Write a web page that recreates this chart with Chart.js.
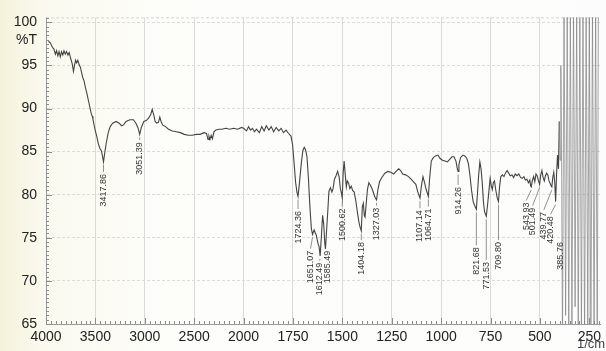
<!DOCTYPE html>
<html><head><meta charset="utf-8">
<script src="https://cdn.jsdelivr.net/npm/chart.js@4.4.1/dist/chart.umd.min.js"></script>
<style>
html,body{margin:0;padding:0;}
body{width:606px;height:351px;overflow:hidden;background:linear-gradient(to right,#f5f2da 0px,#faf9ee 40px,#fdfdfa 160px,#fcfcfc 606px);}
#wrap{position:relative;width:606px;height:351px;}
canvas{display:block;}
</style></head><body><div id="wrap"><canvas id="c" width="606" height="351"></canvas></div>
<script>
// ---- data ----
const xTickLabels = [4000, 3500, 3000, 2500, 2000, 1750, 1500, 1250, 1000, 750, 500, 250];
const yTicks = [65, 70, 75, 80, 85, 90, 95, 100];

const wavenumber = [
3975,3955,3935,3920,3905,3893,3880,3868,3855,3843,3830,3818,3805,3792,3778,3765,3750,3735,3722,3712,
3700,3690,3678,3665,3652,3640,3628,3615,3600,3585,3570,3555,3542,3532,3525,3512,3498,3485,3470,3455,
3440,3430,3417.86,3405,3390,3370,3350,3325,3290,3260,3235,3215,3190,3150,3115,3090,3070,3051.39,3035,3010,
2985,2960,2940,2925,2910,2895,2880,2862,2848,2835,2820,2790,2760,2720,2680,2640,2600,2560,2520,2480,
2440,2400,2375,2360,2350,2340,2328,2315,2300,2280,2250,2220,2180,2140,2100,2060,2020,2000,
1985,1975,1965,1955,1945,1935,1920,1908,1896,1885,1872,1860,1848,1835,1822,1810,1798,1785,1772,1760,
1752,1745,1737,1730,1724.36,1716,1708,1700,1693,1686,1679,1672,1664,1657,1651.07,1643,1632,1623,1618,1612.49,
1606,1600,1594,1589,1585.49,1580,1574,1568,1560,1553,1547,1540,1532,1524,1516,1510,1505,1500.62,1496,1491,
1486,1480,1475,1468,1462,1455,1448,1440,1432,1424,1416,1410,1404.18,1399,1394,1389,1385,1380,1373,1366,
1358,1350,1342,1335,1327.03,1320,1312,1300,1285,1270,1255,1240,1228,1215,1205,1195,1180,1165,1152,1140,
1128,1118,1107.14,1100,1092,1084,1076,1070,1064.71,1058,1050,1040,1028,1016,1005,993,980,968,957,945,
935,925,918,914.26,910,902,890,880,870,862,855,846,838,828,821.68,816,810,804,798,792,
786,780,771.53,765,758,752,746,741,736,730,724,716,709.80,704,698,690,682,675,666,658,
650,641,633,625,616,607,598,590,581,574,566,558,551,547,543.93,538,532,526,520,514,
507,501.49,496,490,484,478,472,466,460,454,448,443,439.77,435,430,425,420.48,416,411,406,
402,398,394,390,385.76,378,370,362,354,346,338,330,322,314,306,298,290,282,274,266,258,250,242,234,226,218,210,204
];
const transmittance = [
97.8,97.6,97.1,96.9,96.3,96.7,96.1,96.6,96.0,96.6,96.2,96.7,96.3,96.6,96.2,96.5,95.8,95.2,94.3,95.0,
95.6,95.3,95.6,95.1,94.8,94.2,93.6,93.2,92.4,91.7,90.9,90.1,89.4,89.1,88.8,88.0,87.3,86.7,85.9,85.4,
85.1,84.6,83.8,84.9,86.0,87.2,87.9,88.3,88.5,88.3,88.0,88.1,88.5,88.7,88.7,88.3,87.8,87.0,87.8,88.5,
88.6,88.9,89.3,89.9,89.3,88.5,88.3,88.4,89.0,88.5,88.1,87.9,87.6,87.4,87.3,87.2,87.0,86.9,86.9,87.0,
87.0,87.2,87.1,86.4,86.8,86.4,86.9,86.5,87.3,87.5,87.6,87.6,87.7,87.6,87.7,87.6,87.8,87.7,
87.4,87.9,87.5,87.7,87.3,87.6,87.2,87.9,87.4,88.0,87.5,87.9,87.3,87.8,87.4,87.7,87.2,87.5,87.1,86.8,
85.8,83.9,81.5,80.3,79.8,81.6,83.6,85.1,85.5,85.2,84.4,82.0,78.5,76.1,75.4,75.9,75.3,74.3,74.0,72.9,
75.2,77.6,76.5,74.4,73.7,75.8,78.0,80.4,80.8,80.3,80.7,81.8,82.2,82.7,82.0,80.7,80.2,79.6,82.5,83.9,
82.5,80.9,81.6,81.3,80.7,81.0,80.5,80.3,79.3,78.0,76.8,76.2,75.8,78.6,79.0,77.6,77.4,78.8,80.6,81.4,
81.1,80.7,80.2,79.7,79.4,80.6,81.5,82.0,82.5,82.7,82.6,82.4,82.7,83.0,82.8,82.4,82.3,82.1,81.8,81.5,
81.2,80.3,79.6,81.0,82.1,81.4,80.6,80.2,79.8,82.0,83.9,84.3,84.5,84.6,84.2,84.0,83.9,83.8,84.1,84.4,
84.4,83.9,83.0,82.7,83.5,84.3,84.6,84.5,84.2,83.6,82.4,80.5,79.2,78.6,78.3,80.2,82.3,83.8,83.0,81.4,
79.2,78.0,77.5,78.8,80.5,81.9,81.0,80.6,81.4,81.6,80.6,79.6,79.2,81.0,82.1,82.3,82.1,82.5,82.8,82.5,
82.2,82.3,82.0,82.4,82.2,82.4,82.0,81.9,82.1,81.7,81.8,81.4,81.7,81.0,80.9,81.7,82.1,81.5,82.4,82.2,
81.6,81.2,82.3,82.8,82.0,81.6,82.2,82.5,82.3,81.6,81.3,81.0,80.9,82.0,82.6,81.4,79.2,82.2,84.6,83.0,
88.5,84.0,95.0,82.0,63.0,101.5,66.0,101.5,64.0,101.5,63.0,101.5,67.0,101.5,63.0,101.5,64.0,101.5,63.0,101.5,
65.0,101.5,63.0,101.5,63.0,101.5,63.0,101.5
];

const peakLabels = ["3417.86","3051.39","1724.36","1651.07","1612.49","1585.49","1500.62","1404.18","1327.03","1107.14",
                    "1064.71","914.26","821.68","771.53","709.80","543.93","501.49","439.77","420.48","385.76"];
const peakWavenumbers = peakLabels.map(Number);
// transmittance level at which each vertical label begins (annotation anchor, in %T)
const peakLabelLevel = [82.4,86.1,78.1,73.5,72.1,73.5,78.4,74.5,78.5,78.2,
                        78.4,80.9,73.9,72.2,74.5,79.1,78.5,78.0,77.5,74.5];

// ---- two-scale wavenumber axis (compressed above 2000) ----
function toU(wn){ return wn >= 2000 ? (4000 - wn) / 500 : 4 + (2000 - wn) / 250; }

const points = wavenumber.map((w, i) => ({x: toU(w), y: transmittance[i]}));
const noiseStart = toU(405);
// small horizontal nudges (px) so crowded labels don't overlap
const labelNudge = {"1651.07": -2, "1612.49": -1, "1585.49": 2, "543.93": -5, "501.49": -7, "439.77": -8, "420.48": -5, "385.76": -2};

const decor = {
  id: 'decor',
  beforeDatasetsDraw(chart){
    const {ctx, chartArea: a, scales: {x, y}} = chart;
    ctx.save();
    ctx.strokeStyle = '#d4d4d4'; ctx.lineWidth = 1; ctx.setLineDash([3,2]);
    ctx.beginPath(); ctx.moveTo(a.left, a.top + 0.5); ctx.lineTo(a.right, a.top + 0.5); ctx.stroke();
    ctx.setLineDash([]);
    ctx.strokeStyle = '#8c8c8c'; ctx.lineWidth = 1;
    ctx.beginPath();
    for (let k = 0; k <= 112; k++) {
      const u = k / 10;
      const px = Math.round(x.getPixelForValue(u)) + 0.5;
      const len = (k % 10 === 0) ? 6 : 3;
      ctx.moveTo(px, a.bottom); ctx.lineTo(px, a.bottom - len);
    }
    for (let k = 0; k <= 71; k++) {
      const t = 65 + k * 0.5;
      if (t > 100.5) break;
      const py = Math.round(y.getPixelForValue(t)) + 0.5;
      const len = (k % 10 === 0) ? 6 : 3;
      ctx.moveTo(a.left, py); ctx.lineTo(a.left + len, py);
    }
    ctx.stroke();
    ctx.restore();
  },
  afterDatasetsDraw(chart){
    const {ctx, scales: {x, y}} = chart;
    ctx.save();
    ctx.fillStyle = '#222';
    ctx.font = '14px "Liberation Sans", Arial, sans-serif';
    ctx.textBaseline = 'middle'; ctx.textAlign = 'left';
    ctx.fillText('%T', 16, 40);
    ctx.font = '13px "Liberation Sans", Arial, sans-serif';
    ctx.fillStyle = '#444';
    ctx.fillText('1/cm', 577, 344);
    ctx.font = '9px "Liberation Sans", Arial, sans-serif';
    ctx.fillStyle = '#333';
    ctx.strokeStyle = '#777'; ctx.lineWidth = 0.8;
    peakWavenumbers.forEach((w, i) => {
      const px = x.getPixelForValue(toU(w));
      const lx = px + (labelNudge[peakLabels[i]] || 0);
      const idx = wavenumber.indexOf(w);
      const tPeak = idx >= 0 ? transmittance[idx] : peakLabelLevel[i] + 2;
      const pyPeak = y.getPixelForValue(Math.max(tPeak, 65));
      const pyLab = y.getPixelForValue(peakLabelLevel[i]);
      if (pyLab - pyPeak > 6) {
        ctx.beginPath(); ctx.moveTo(px, pyPeak + 3); ctx.lineTo(lx, pyLab - 2); ctx.stroke();
      }
      ctx.save();
      ctx.translate(lx, pyLab);
      ctx.rotate(-Math.PI / 2);
      ctx.textAlign = 'right'; ctx.textBaseline = 'middle';
      ctx.fillText(peakLabels[i], 0, 0);
      ctx.restore();
    });
    ctx.restore();
  }
};

new Chart(document.getElementById('c'), {
  type: 'line',
  data: { datasets: [{
    data: points,
    borderColor: '#444',
    borderWidth: 1.1,
    pointRadius: 0,
    tension: 0,
    segment: {
      borderColor: c => c.p0.parsed.x > noiseStart ? '#808080' : '#444',
      borderWidth: c => c.p0.parsed.x > noiseStart ? 0.7 : 1.1
    }
  }]},
  options: {
    responsive: false,
    devicePixelRatio: 1,
    animation: false,
    parsing: false,
    layout: { padding: { top: 12, right: 0, left: 0, bottom: 0 } },
    plugins: { legend: { display: false }, tooltip: { enabled: false } },
    scales: {
      x: {
        type: 'linear', min: 0, max: 11.22,
        afterBuildTicks: s => { s.ticks = xTickLabels.map((v, i) => ({ value: i })); },
        afterFit: s => { s.height = 27; },
        ticks: {
          autoSkip: false, maxRotation: 0, padding: 5, color: '#222',
          font: { size: 14, family: '"Liberation Sans", Arial, sans-serif' },
          callback: v => String(xTickLabels[Math.round(v)])
        },
        grid: { color: '#dadada', lineWidth: 1, drawTicks: false },
        border: { color: '#9a9a9a' }
      },
      y: {
        type: 'linear', min: 65, max: 100.57,
        afterBuildTicks: s => { s.ticks = yTicks.map(v => ({ value: v })); },
        afterFit: s => { s.width = 46; },
        ticks: {
          padding: 9, color: '#222',
          font: { size: 14, family: '"Liberation Sans", Arial, sans-serif' }
        },
        grid: { color: '#dcdcdc', lineWidth: 1, drawTicks: false },
        border: { color: '#9a9a9a', dash: [3, 2] }
      }
    }
  },
  plugins: [decor]
});
</script>
</body></html>
